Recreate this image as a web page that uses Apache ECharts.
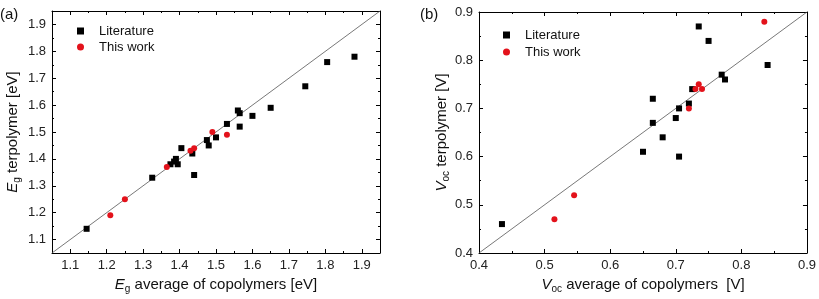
<!DOCTYPE html>
<html>
<head>
<meta charset="utf-8">
<script src="https://cdn.jsdelivr.net/npm/echarts@6/dist/echarts.min.js"></script>
<style>
html, body { margin: 0; padding: 0; background: #fff; }
#chart { width: 819px; height: 299px; }
</style>
</head>
<body>
<div id="chart"></div>
<script>
// (a) band gap: literature / this work
var egLitX = [1.145, 1.325, 1.375, 1.385, 1.39, 1.395, 1.405, 1.435, 1.44, 1.475, 1.48, 1.50, 1.53, 1.56, 1.565, 1.565, 1.60, 1.65, 1.745, 1.805, 1.88];
var egLitY = [1.14, 1.33, 1.38, 1.39, 1.40, 1.38, 1.44, 1.42, 1.34, 1.47, 1.45, 1.48, 1.53, 1.58, 1.57, 1.52, 1.56, 1.59, 1.67, 1.76, 1.78];
var egOurX = [1.21, 1.25, 1.365, 1.43, 1.44, 1.49, 1.53];
var egOurY = [1.19, 1.25, 1.37, 1.43, 1.44, 1.50, 1.49];
var egRange = [1.05, 1.95];

// (b) open circuit voltage
var vocLitX = [0.435, 0.65, 0.665, 0.665, 0.68, 0.70, 0.705, 0.705, 0.72, 0.725, 0.735, 0.75, 0.77, 0.775, 0.84];
var vocLitY = [0.46, 0.61, 0.72, 0.67, 0.64, 0.68, 0.70, 0.60, 0.71, 0.74, 0.87, 0.84, 0.77, 0.76, 0.79];
var vocOurX = [0.515, 0.545, 0.72, 0.73, 0.735, 0.74, 0.835];
var vocOurY = [0.47, 0.52, 0.70, 0.74, 0.75, 0.74, 0.88];
var vocRange = [0.4, 0.9];

var seriesNames = ['Literature', 'This work'];

var FONT = 'Liberation Sans, Arial, sans-serif';

function pairs(xs, ys) {
    var out = [];
    for (var i = 0; i < xs.length; i++) out.push([xs[i], ys[i]]);
    return out;
}

var nameRich = {
    i: { fontStyle: 'italic', fontSize: 15, color: '#111', verticalAlign: 'top', fontFamily: FONT },
    s: { fontSize: 10, color: '#111', verticalAlign: 'top', padding: [7, 0, 0, 0], fontFamily: FONT },
    n: { fontSize: 15, color: '#111', verticalAlign: 'top', fontFamily: FONT }
};

// major axis (labels optional) and a minor-tick overlay axis
// edges: whether the min/max values get a label (only when they sit on a tick)
function majorAxis(grid, pos, range, step, labels, edges, name, gap) {
    var ax = {
        type: 'value', gridIndex: grid, position: pos,
        min: range[0], max: range[1],
        splitNumber: Math.round((range[1] - range[0]) / step),
        axisLine: { show: true, onZero: false, lineStyle: { color: '#000', width: 1 } },
        axisTick: { show: true, inside: true, length: 4, lineStyle: { color: '#000' } },
        axisLabel: { show: labels, fontSize: 13, color: '#222', margin: 6, fontFamily: FONT,
            showMinLabel: edges, showMaxLabel: edges,
            formatter: function (v) { return v.toFixed(1); } },
        splitLine: { show: false }
    };
    if (edges) ax.interval = step;
    if (name) {
        ax.name = name;
        ax.nameLocation = 'middle';
        ax.nameGap = gap;
        ax.nameTextStyle = { rich: nameRich };
    }
    return ax;
}

function minorAxis(grid, pos, range, step) {
    return {
        type: 'value', gridIndex: grid, position: pos,
        min: range[0], max: range[1], interval: step / 2,
        axisLine: { show: false },
        axisTick: { show: true, inside: true, length: 2, lineStyle: { color: '#000' } },
        axisLabel: { show: false },
        splitLine: { show: false }
    };
}

var xAxes = [
    majorAxis(0, 'bottom', egRange, 0.1, true, false, '{i|E}{s|g}{n| average of copolymers [eV]}', 21),
    majorAxis(0, 'top', egRange, 0.1, false, false),
    minorAxis(0, 'bottom', egRange, 0.1),
    minorAxis(0, 'top', egRange, 0.1),
    majorAxis(1, 'bottom', vocRange, 0.1, true, true, '{i|V}{s|oc}{n| average of copolymers  [V]}', 21),
    majorAxis(1, 'top', vocRange, 0.1, false, true),
    minorAxis(1, 'bottom', vocRange, 0.1),
    minorAxis(1, 'top', vocRange, 0.1)
];
var yAxes = [
    majorAxis(0, 'left', egRange, 0.1, true, false, '{i|E}{s|g}{n| terpolymer [eV]}', 30),
    majorAxis(0, 'right', egRange, 0.1, false, false),
    minorAxis(0, 'left', egRange, 0.1),
    minorAxis(0, 'right', egRange, 0.1),
    majorAxis(1, 'left', vocRange, 0.1, true, true, '{i|V}{s|oc}{n| terpolymer [V]}', 23),
    majorAxis(1, 'right', vocRange, 0.1, false, true),
    minorAxis(1, 'left', vocRange, 0.1),
    minorAxis(1, 'right', vocRange, 0.1)
];

function diag(axis, range) {
    return {
        type: 'line', xAxisIndex: axis, yAxisIndex: axis,
        data: [[range[0], range[0]], [range[1], range[1]]],
        symbol: 'none', silent: true, z: 1,
        lineStyle: { color: '#555', width: 0.8 }
    };
}

function dots(name, axis, data, symbol, color) {
    return {
        name: name, type: 'scatter', xAxisIndex: axis, yAxisIndex: axis,
        data: data, symbol: symbol, symbolSize: 6, z: 3,
        itemStyle: { color: color, opacity: 1 }
    };
}

function legendAt(left, top, gap) {
    return {
        orient: 'vertical', left: left, top: top, padding: 0,
        itemWidth: 7, itemHeight: 7, itemGap: gap,
        selectedMode: false,
        textStyle: { fontSize: 13, color: '#111', fontFamily: FONT, lineHeight: 14, padding: [0, 0, 0, 10] },
        data: [{ name: seriesNames[0], icon: 'rect' }, { name: seriesNames[1], icon: 'circle' }]
    };
}

var chart = echarts.init(document.getElementById('chart'));
var option = {
    animation: false,
    textStyle: { fontFamily: FONT },
    title: [
        { text: '(a)', left: 0, top: 7, padding: 0, textStyle: { fontSize: 15, fontWeight: 'normal', color: '#111', fontFamily: FONT } },
        { text: '(b)', left: 420, top: 7, padding: 0, textStyle: { fontSize: 15, fontWeight: 'normal', color: '#111', fontFamily: FONT } }
    ],
    legend: [legendAt(77, 24, 2), legendAt(503, 28, 3)],
    grid: [
        { left: 52, top: 11, width: 328, height: 242 },
        { left: 479, top: 12, width: 329, height: 241 }
    ],
    xAxis: xAxes,
    yAxis: yAxes,
    series: [
        diag(0, egRange),
        dots(seriesNames[0], 0, pairs(egLitX, egLitY), 'rect', '#000'),
        dots(seriesNames[1], 0, pairs(egOurX, egOurY), 'circle', '#e3121b'),
        diag(4, vocRange),
        dots(seriesNames[0], 4, pairs(vocLitX, vocLitY), 'rect', '#000'),
        dots(seriesNames[1], 4, pairs(vocOurX, vocOurY), 'circle', '#e3121b')
    ]
};
chart.setOption(option);

window.onresize = function () {
    chart.resize();
};
</script>
</body>
</html>
